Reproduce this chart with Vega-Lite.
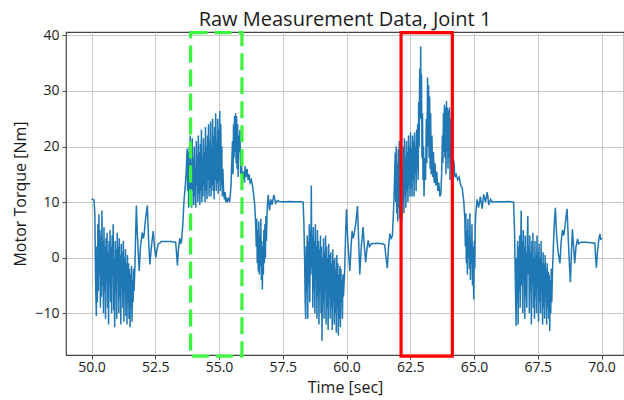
{
  "$schema": "https://vega.github.io/schema/vega-lite/v6.json",
  "width": 558,
  "height": 323,
  "autosize": {"type": "none"},
  "padding": {"left": 66, "top": 32, "right": 0, "bottom": 45},
  "background": "white",
  "config": {
    "font": "Open Sans",
    "view": {"stroke": "#444444", "strokeWidth": 1.2},
    "axis": {
      "domain": false,
      "gridColor": "#c8c8c8",
      "gridWidth": 1,
      "tickColor": "#444444",
      "tickSize": 4,
      "labelFontSize": 14,
      "labelColor": "#1a1a1a",
      "titleFontSize": 16,
      "titleFontWeight": "normal",
      "titleColor": "#1a1a1a"
    }
  },
  "title": {"text": "Raw Measurement Data, Joint 1", "fontSize": 20, "fontWeight": "normal", "color": "#1a1a1a", "offset": -2},
  "layer": [
    {
      "data": {"values": [
        {"time":50.00,"torque":10.6},{"time":50.05,"torque":10.5},{"time":50.10,"torque":10.4},{"time":50.13,"torque":8},{"time":50.16,"torque":-4},{"time":50.19,"torque":-10.5},{"time":50.21,"torque":2},{"time":50.23,"torque":-8},{"time":50.25,"torque":6},{"time":50.27,"torque":-6},{"time":50.29,"torque":7.8},{"time":50.31,"torque":-3},{"time":50.33,"torque":5},{"time":50.35,"torque":-9},{"time":50.37,"torque":4},{"time":50.39,"torque":-7},{"time":50.41,"torque":8.5},{"time":50.43,"torque":-5},{"time":50.45,"torque":3},{"time":50.47,"torque":-10},{"time":50.49,"torque":5.5},{"time":50.51,"torque":-6},{"time":50.53,"torque":2},{"time":50.55,"torque":-11},{"time":50.57,"torque":3.5},{"time":50.59,"torque":-4},{"time":50.61,"torque":4.5},{"time":50.63,"torque":-9},{"time":50.65,"torque":1},{"time":50.67,"torque":-12},{"time":50.69,"torque":3},{"time":50.71,"torque":-5},{"time":50.73,"torque":5},{"time":50.75,"torque":-8},{"time":50.77,"torque":2},{"time":50.79,"torque":-10},{"time":50.81,"torque":4},{"time":50.83,"torque":-3},{"time":50.85,"torque":6},{"time":50.87,"torque":-9.5},{"time":50.89,"torque":0},{"time":50.91,"torque":-12.5},{"time":50.93,"torque":3},{"time":50.95,"torque":-6},{"time":50.97,"torque":1.5},{"time":50.99,"torque":-11},{"time":51.01,"torque":4.5},{"time":51.03,"torque":-4},{"time":51.05,"torque":2},{"time":51.07,"torque":-10},{"time":51.09,"torque":3.5},{"time":51.11,"torque":-7},{"time":51.13,"torque":0.5},{"time":51.15,"torque":-12},{"time":51.17,"torque":2.5},{"time":51.19,"torque":-5},{"time":51.21,"torque":1},{"time":51.23,"torque":-9},{"time":51.25,"torque":3},{"time":51.27,"torque":-11.5},{"time":51.29,"torque":0},{"time":51.31,"torque":-6},{"time":51.33,"torque":1.5},{"time":51.35,"torque":-10.5},{"time":51.37,"torque":-1},{"time":51.39,"torque":-12},{"time":51.41,"torque":0.5},{"time":51.43,"torque":-8},{"time":51.45,"torque":-1},{"time":51.47,"torque":-11},{"time":51.49,"torque":-2},{"time":51.51,"torque":-12.5},{"time":51.53,"torque":-3},{"time":51.55,"torque":-9},{"time":51.57,"torque":-1.5},{"time":51.59,"torque":-11.5},{"time":51.61,"torque":-4},{"time":51.63,"torque":-8},{"time":51.65,"torque":-2},{"time":51.67,"torque":-6},
        {"time":51.70,"torque":-2},{"time":51.73,"torque":4},{"time":51.76,"torque":9.4},{"time":51.80,"torque":4},{"time":51.87,"torque":-2.4},{"time":51.92,"torque":2},{"time":51.99,"torque":4.5},{"time":52.03,"torque":3.5},{"time":52.06,"torque":4.0},{"time":52.12,"torque":7},{"time":52.19,"torque":9.4},{"time":52.24,"torque":3},{"time":52.29,"torque":-1.2},{"time":52.35,"torque":2},{"time":52.42,"torque":4.8},{"time":52.47,"torque":2},{"time":52.52,"torque":0},{"time":52.57,"torque":1.5},{"time":52.61,"torque":2.4},{"time":52.67,"torque":2.6},{"time":52.74,"torque":2.9},{"time":52.90,"torque":2.9},{"time":53.10,"torque":2.9},{"time":53.30,"torque":2.8},{"time":53.34,"torque":0.5},{"time":53.37,"torque":-1.4},{"time":53.41,"torque":1.5},{"time":53.46,"torque":3.5},{"time":53.50,"torque":2.5},{"time":53.53,"torque":3.0},{"time":53.58,"torque":6},{"time":53.63,"torque":10.4},{"time":53.68,"torque":13},{"time":53.72,"torque":16},{"time":53.75,"torque":19.6},
        {"time":53.77,"torque":12},{"time":53.79,"torque":19},{"time":53.81,"torque":9},{"time":53.83,"torque":20},{"time":53.85,"torque":11},{"time":53.87,"torque":22},{"time":53.89,"torque":10},{"time":53.91,"torque":17},{"time":53.93,"torque":9},{"time":53.95,"torque":21.5},{"time":53.97,"torque":12},{"time":53.99,"torque":18},{"time":54.01,"torque":9.5},{"time":54.03,"torque":20},{"time":54.05,"torque":11},{"time":54.07,"torque":16},{"time":54.09,"torque":9},{"time":54.11,"torque":21},{"time":54.13,"torque":13},{"time":54.15,"torque":18.5},{"time":54.17,"torque":10},{"time":54.19,"torque":22},{"time":54.21,"torque":11.5},{"time":54.23,"torque":19},{"time":54.25,"torque":9.5},{"time":54.27,"torque":20.5},{"time":54.29,"torque":12},{"time":54.31,"torque":23},{"time":54.33,"torque":10},{"time":54.35,"torque":18},{"time":54.37,"torque":11},{"time":54.39,"torque":21.5},{"time":54.41,"torque":13},{"time":54.43,"torque":19},{"time":54.45,"torque":10},{"time":54.47,"torque":23.5},{"time":54.49,"torque":12},{"time":54.51,"torque":20},{"time":54.53,"torque":10.5},{"time":54.55,"torque":22},{"time":54.57,"torque":14},{"time":54.59,"torque":24},{"time":54.61,"torque":11},{"time":54.63,"torque":21},{"time":54.65,"torque":12.5},{"time":54.67,"torque":24.5},{"time":54.69,"torque":11},{"time":54.71,"torque":20},{"time":54.73,"torque":13},{"time":54.75,"torque":25},{"time":54.77,"torque":12},{"time":54.79,"torque":22},{"time":54.81,"torque":10.5},{"time":54.83,"torque":23.5},{"time":54.85,"torque":14},{"time":54.87,"torque":26},{"time":54.89,"torque":12},{"time":54.91,"torque":21},{"time":54.93,"torque":13.5},{"time":54.95,"torque":25},{"time":54.97,"torque":11.5},{"time":54.99,"torque":23},{"time":55.01,"torque":14},{"time":55.03,"torque":26.4},{"time":55.05,"torque":12},{"time":55.07,"torque":24},{"time":55.09,"torque":13},{"time":55.11,"torque":20},{"time":55.13,"torque":11},{"time":55.15,"torque":16},{"time":55.18,"torque":12},{"time":55.21,"torque":10.5},{"time":55.24,"torque":11.8},{"time":55.27,"torque":10},{"time":55.30,"torque":10.8},{"time":55.33,"torque":10.2},{"time":55.37,"torque":10.6},{"time":55.41,"torque":10},{"time":55.44,"torque":11},{"time":55.47,"torque":13},{"time":55.50,"torque":17},{"time":55.53,"torque":21},{"time":55.55,"torque":15},{"time":55.57,"torque":24},{"time":55.59,"torque":18},{"time":55.61,"torque":25.5},{"time":55.63,"torque":19},{"time":55.65,"torque":26},{"time":55.67,"torque":17},{"time":55.69,"torque":25.5},{"time":55.71,"torque":16},{"time":55.73,"torque":24},{"time":55.75,"torque":14.5},{"time":55.77,"torque":22},{"time":55.79,"torque":19},{"time":55.82,"torque":23},{"time":55.85,"torque":15},{"time":55.88,"torque":16.9},{"time":55.92,"torque":14},{"time":55.96,"torque":15.5},{"time":56.00,"torque":13.5},
        {"time":56.02,"torque":16.5},{"time":56.06,"torque":14.5},{"time":56.10,"torque":16},{"time":56.14,"torque":14},{"time":56.18,"torque":15},{"time":56.22,"torque":13.5},{"time":56.27,"torque":14},{"time":56.33,"torque":12.5},{"time":56.40,"torque":9.5},{"time":56.44,"torque":6},{"time":56.46,"torque":2},{"time":56.48,"torque":7},{"time":56.50,"torque":-1},{"time":56.52,"torque":5},{"time":56.54,"torque":-2.5},{"time":56.56,"torque":6.5},{"time":56.58,"torque":-3},{"time":56.60,"torque":4},{"time":56.62,"torque":-1.5},{"time":56.64,"torque":7},{"time":56.66,"torque":-4},{"time":56.68,"torque":3},{"time":56.70,"torque":-5.7},{"time":56.72,"torque":2},{"time":56.74,"torque":-3},{"time":56.76,"torque":5},{"time":56.78,"torque":-1},{"time":56.80,"torque":6},{"time":56.82,"torque":0},{"time":56.84,"torque":7.5},{"time":56.86,"torque":3},{"time":56.89,"torque":9},{"time":56.93,"torque":11.3},{"time":56.98,"torque":8.5},{"time":57.03,"torque":10.5},{"time":57.08,"torque":9.5},{"time":57.15,"torque":11.3},{"time":57.22,"torque":9.8},{"time":57.30,"torque":10.3},{"time":57.40,"torque":10.05},{"time":57.60,"torque":10.05},{"time":57.80,"torque":10.1},{"time":58.00,"torque":10.05},{"time":58.20,"torque":10.05},{"time":58.30,"torque":10.0},{"time":58.33,"torque":6},{"time":58.36,"torque":-1.2},{"time":58.38,"torque":-8},{"time":58.40,"torque":-11},
        {"time":58.42,"torque":2},{"time":58.44,"torque":-6},{"time":58.46,"torque":4},{"time":58.48,"torque":-11},{"time":58.50,"torque":3},{"time":58.52,"torque":-5},{"time":58.54,"torque":6},{"time":58.56,"torque":-8},{"time":58.58,"torque":5},{"time":58.60,"torque":-3},{"time":58.62,"torque":13},{"time":58.64,"torque":-2},{"time":58.66,"torque":4},{"time":58.68,"torque":-9},{"time":58.70,"torque":5.5},{"time":58.72,"torque":-6},{"time":58.74,"torque":3},{"time":58.76,"torque":-10},{"time":58.78,"torque":6},{"time":58.80,"torque":-4},{"time":58.82,"torque":2},{"time":58.84,"torque":-11},{"time":58.86,"torque":5},{"time":58.88,"torque":-7},{"time":58.90,"torque":3},{"time":58.92,"torque":-12},{"time":58.94,"torque":1.5},{"time":58.96,"torque":-6},{"time":58.98,"torque":4},{"time":59.00,"torque":-10},{"time":59.02,"torque":2},{"time":59.04,"torque":-15},{"time":59.06,"torque":0},{"time":59.08,"torque":-8},{"time":59.10,"torque":3.5},{"time":59.12,"torque":-11},{"time":59.14,"torque":1},{"time":59.16,"torque":-6},{"time":59.18,"torque":4},{"time":59.20,"torque":-12},{"time":59.22,"torque":2},{"time":59.24,"torque":-9},{"time":59.26,"torque":0},{"time":59.28,"torque":-13},{"time":59.30,"torque":2.5},{"time":59.32,"torque":-7},{"time":59.34,"torque":0.5},{"time":59.36,"torque":-11},{"time":59.38,"torque":1},{"time":59.40,"torque":-9},{"time":59.42,"torque":-1},{"time":59.44,"torque":-13},{"time":59.46,"torque":1.5},{"time":59.48,"torque":-8},{"time":59.50,"torque":-0.5},{"time":59.52,"torque":-12},{"time":59.54,"torque":0},{"time":59.56,"torque":-10},{"time":59.58,"torque":-2},{"time":59.60,"torque":-13.5},{"time":59.62,"torque":0.5},{"time":59.64,"torque":-9},{"time":59.66,"torque":-1},{"time":59.68,"torque":-14},{"time":59.70,"torque":-3},{"time":59.72,"torque":-11},{"time":59.74,"torque":-1.5},{"time":59.76,"torque":-12.5},{"time":59.78,"torque":-2},{"time":59.80,"torque":-8},{"time":59.82,"torque":-4},{"time":59.84,"torque":-11},{"time":59.86,"torque":-3},{"time":59.88,"torque":-7},{"time":59.91,"torque":-4},
        {"time":59.93,"torque":-2},{"time":59.97,"torque":5},{"time":60.00,"torque":8.7},{"time":60.05,"torque":3},{"time":60.13,"torque":-2.4},{"time":60.18,"torque":2},{"time":60.22,"torque":4.8},{"time":60.26,"torque":3.5},{"time":60.30,"torque":4.2},{"time":60.36,"torque":6},{"time":60.43,"torque":9.3},{"time":60.47,"torque":4},{"time":60.52,"torque":-3},{"time":60.58,"torque":2},{"time":60.65,"torque":5.5},{"time":60.70,"torque":2},{"time":60.75,"torque":-0.8},{"time":60.80,"torque":1.5},{"time":60.85,"torque":3.1},{"time":60.90,"torque":2},{"time":60.98,"torque":2.5},{"time":61.20,"torque":2.6},{"time":61.40,"torque":2.5},{"time":61.50,"torque":2.3},{"time":61.55,"torque":0},{"time":61.60,"torque":-1.9},{"time":61.65,"torque":2},{"time":61.70,"torque":4.3},{"time":61.75,"torque":3.5},{"time":61.80,"torque":4},{"time":61.84,"torque":8},{"time":61.87,"torque":11.7},{"time":61.91,"torque":18.9},
        {"time":61.93,"torque":10},{"time":61.95,"torque":20},{"time":61.97,"torque":8},{"time":61.99,"torque":17},{"time":62.01,"torque":6.5},{"time":62.03,"torque":19.5},{"time":62.05,"torque":9},{"time":62.07,"torque":21},{"time":62.09,"torque":7},{"time":62.11,"torque":18},{"time":62.13,"torque":10},{"time":62.15,"torque":20.5},{"time":62.17,"torque":6.8},{"time":62.19,"torque":16},{"time":62.21,"torque":9.5},{"time":62.23,"torque":20},{"time":62.25,"torque":8},{"time":62.27,"torque":21.5},{"time":62.29,"torque":11},{"time":62.31,"torque":18},{"time":62.33,"torque":9},{"time":62.35,"torque":21},{"time":62.37,"torque":12},{"time":62.39,"torque":19},{"time":62.41,"torque":10},{"time":62.43,"torque":22},{"time":62.45,"torque":13},{"time":62.47,"torque":20},{"time":62.49,"torque":11},{"time":62.51,"torque":22.5},{"time":62.53,"torque":12.5},{"time":62.55,"torque":19.5},{"time":62.57,"torque":11},{"time":62.59,"torque":22},{"time":62.61,"torque":14},{"time":62.63,"torque":21},{"time":62.65,"torque":11},{"time":62.67,"torque":22.5},{"time":62.69,"torque":15},{"time":62.71,"torque":20},{"time":62.73,"torque":12},{"time":62.75,"torque":23},{"time":62.77,"torque":16},{"time":62.79,"torque":24},{"time":62.81,"torque":14},{"time":62.83,"torque":28},{"time":62.85,"torque":20},{"time":62.87,"torque":34},{"time":62.89,"torque":25},{"time":62.91,"torque":38},{"time":62.92,"torque":25},{"time":62.94,"torque":33},{"time":62.96,"torque":18},{"time":62.98,"torque":26},{"time":63.00,"torque":14},{"time":63.02,"torque":20},{"time":63.04,"torque":11},{"time":63.07,"torque":18},{"time":63.10,"torque":14},{"time":63.13,"torque":25},{"time":63.15,"torque":17},{"time":63.18,"torque":32.4},{"time":63.20,"torque":20},{"time":63.22,"torque":31},{"time":63.24,"torque":18},{"time":63.26,"torque":29},{"time":63.28,"torque":16},{"time":63.30,"torque":26},{"time":63.32,"torque":15},{"time":63.35,"torque":22},{"time":63.38,"torque":14.5},{"time":63.41,"torque":19},{"time":63.44,"torque":13.5},{"time":63.47,"torque":17},{"time":63.50,"torque":13},{"time":63.54,"torque":15.5},{"time":63.58,"torque":12},{"time":63.62,"torque":13.5},{"time":63.66,"torque":11},{"time":63.70,"torque":11.5},{"time":63.73,"torque":15},{"time":63.76,"torque":22},{"time":63.78,"torque":17},{"time":63.80,"torque":26},{"time":63.82,"torque":19},{"time":63.84,"torque":27.5},{"time":63.86,"torque":18},{"time":63.88,"torque":27},{"time":63.90,"torque":15},{"time":63.92,"torque":28.2},{"time":63.94,"torque":19},{"time":63.96,"torque":27},{"time":63.98,"torque":16},{"time":64.00,"torque":26.5},{"time":64.02,"torque":18},{"time":64.04,"torque":27},{"time":64.06,"torque":14},{"time":64.08,"torque":25},{"time":64.10,"torque":17},{"time":64.13,"torque":19},
        {"time":64.17,"torque":15.5},{"time":64.21,"torque":17.5},{"time":64.25,"torque":14.5},{"time":64.30,"torque":15},{"time":64.36,"torque":14},{"time":64.42,"torque":14.5},{"time":64.48,"torque":13},{"time":64.54,"torque":12.5},{"time":64.60,"torque":10},{"time":64.64,"torque":7},{"time":64.66,"torque":2},{"time":64.68,"torque":8},{"time":64.70,"torque":-1},{"time":64.72,"torque":5},{"time":64.74,"torque":-3},{"time":64.76,"torque":7},{"time":64.78,"torque":0},{"time":64.80,"torque":4},{"time":64.82,"torque":-2},{"time":64.84,"torque":8},{"time":64.86,"torque":-4},{"time":64.88,"torque":3},{"time":64.90,"torque":-1},{"time":64.92,"torque":6},{"time":64.94,"torque":-5},{"time":64.96,"torque":2},{"time":64.99,"torque":-7.5},{"time":65.01,"torque":3},{"time":65.03,"torque":-2},{"time":65.05,"torque":6},{"time":65.08,"torque":8.5},{"time":65.12,"torque":10.5},{"time":65.18,"torque":9},{"time":65.25,"torque":11},{"time":65.32,"torque":8.8},{"time":65.38,"torque":11.4},{"time":65.45,"torque":10},{"time":65.52,"torque":11.8},{"time":65.58,"torque":9.5},{"time":65.65,"torque":10.5},{"time":65.72,"torque":10},{"time":65.82,"torque":10.05},{"time":66.00,"torque":10.05},{"time":66.20,"torque":10.05},{"time":66.40,"torque":10.1},{"time":66.55,"torque":10.0},
        {"time":66.59,"torque":5},{"time":66.62,"torque":-4},{"time":66.65,"torque":-12.3},{"time":66.67,"torque":0},{"time":66.69,"torque":-8},{"time":66.71,"torque":3},{"time":66.73,"torque":-12},{"time":66.75,"torque":2},{"time":66.77,"torque":-6},{"time":66.79,"torque":4},{"time":66.81,"torque":-9},{"time":66.83,"torque":1},{"time":66.85,"torque":8.5},{"time":66.87,"torque":-5},{"time":66.89,"torque":3},{"time":66.91,"torque":-10},{"time":66.93,"torque":5},{"time":66.95,"torque":-4},{"time":66.97,"torque":2},{"time":66.99,"torque":-11},{"time":67.01,"torque":4},{"time":67.03,"torque":-7},{"time":67.05,"torque":1},{"time":67.07,"torque":-9},{"time":67.09,"torque":3},{"time":67.11,"torque":7.5},{"time":67.13,"torque":-3},{"time":67.15,"torque":2},{"time":67.17,"torque":-10},{"time":67.19,"torque":4},{"time":67.21,"torque":-6},{"time":67.23,"torque":1},{"time":67.25,"torque":-12},{"time":67.27,"torque":3},{"time":67.29,"torque":-5},{"time":67.31,"torque":4.5},{"time":67.33,"torque":-9},{"time":67.35,"torque":0},{"time":67.37,"torque":-11},{"time":67.39,"torque":3},{"time":67.41,"torque":-7},{"time":67.43,"torque":0.5},{"time":67.45,"torque":-10},{"time":67.47,"torque":4},{"time":67.49,"torque":-5},{"time":67.51,"torque":1},{"time":67.53,"torque":-11.5},{"time":67.55,"torque":2.5},{"time":67.57,"torque":-8},{"time":67.59,"torque":0},{"time":67.61,"torque":-10},{"time":67.63,"torque":3},{"time":67.65,"torque":-6},{"time":67.67,"torque":-1},{"time":67.69,"torque":-12},{"time":67.71,"torque":1},{"time":67.73,"torque":-9},{"time":67.75,"torque":-1},{"time":67.77,"torque":-11},{"time":67.79,"torque":0.5},{"time":67.81,"torque":-7},{"time":67.83,"torque":-2},{"time":67.85,"torque":-12},{"time":67.87,"torque":-1},{"time":67.89,"torque":-9},{"time":67.91,"torque":-2.5},{"time":67.93,"torque":-11},{"time":67.95,"torque":-3},{"time":67.97,"torque":-13.2},{"time":67.99,"torque":-4},{"time":68.01,"torque":-10},{"time":68.03,"torque":-2},{"time":68.05,"torque":-8},{"time":68.08,"torque":-2},
        {"time":68.12,"torque":3},{"time":68.15,"torque":6},{"time":68.19,"torque":9},{"time":68.24,"torque":4},{"time":68.30,"torque":1},{"time":68.37,"torque":-1},{"time":68.42,"torque":3},{"time":68.47,"torque":5},{"time":68.51,"torque":4},{"time":68.54,"torque":4.5},{"time":68.60,"torque":7},{"time":68.65,"torque":8.8},{"time":68.70,"torque":3},{"time":68.75,"torque":-2},{"time":68.78,"torque":-4.4},{"time":68.82,"torque":1},{"time":68.86,"torque":5.1},{"time":68.91,"torque":1.5},{"time":68.95,"torque":-1},{"time":69.00,"torque":2},{"time":69.06,"torque":3.4},{"time":69.10,"torque":2.5},{"time":69.15,"torque":2.7},{"time":69.21,"torque":2.8},{"time":69.40,"torque":2.8},{"time":69.60,"torque":2.7},{"time":69.74,"torque":2.6},{"time":69.77,"torque":0},{"time":69.80,"torque":-1.8},{"time":69.84,"torque":1},{"time":69.90,"torque":3.5},{"time":69.94,"torque":4.3},{"time":69.97,"torque":3.2},{"time":70.00,"torque":3.6}
      ]},
      "mark": {"type": "line", "color": "#1f77b4", "strokeWidth": 1.5, "clip": true},
      "encoding": {
        "x": {
          "field": "time", "type": "quantitative",
          "scale": {"domain": [49, 70.882], "nice": false, "zero": false},
          "axis": {"title": "Time [sec]", "values": [50, 52.5, 55, 57.5, 60, 62.5, 65, 67.5, 70], "format": ".1f", "labelPadding": 1, "titlePadding": 5}
        },
        "y": {
          "field": "torque", "type": "quantitative",
          "scale": {"domain": [-17.5, 40.6], "nice": false, "zero": false},
          "axis": {"title": "Motor Torque [Nm]", "values": [-10, 0, 10, 20, 30, 40], "labelPadding": 3, "titlePadding": 6}
        }
      }
    },
    {
      "data": {"values": [{"start": 53.886, "end": 55.9, "low": -17.7, "high": 40.5}]},
      "mark": {"type": "rect", "fill": null, "stroke": "#3df53d", "strokeWidth": 3.2, "strokeDash": [17, 7], "clip": false},
      "encoding": {
        "x": {"field": "start", "type": "quantitative"},
        "x2": {"field": "end"},
        "y": {"field": "low", "type": "quantitative"},
        "y2": {"field": "high"}
      }
    },
    {
      "data": {"values": [{"start": 62.14, "end": 64.15, "low": -17.7, "high": 40.5}]},
      "mark": {"type": "rect", "fill": null, "stroke": "#ff0000", "strokeWidth": 3.2, "clip": false},
      "encoding": {
        "x": {"field": "start", "type": "quantitative"},
        "x2": {"field": "end"},
        "y": {"field": "low", "type": "quantitative"},
        "y2": {"field": "high"}
      }
    }
  ]
}
